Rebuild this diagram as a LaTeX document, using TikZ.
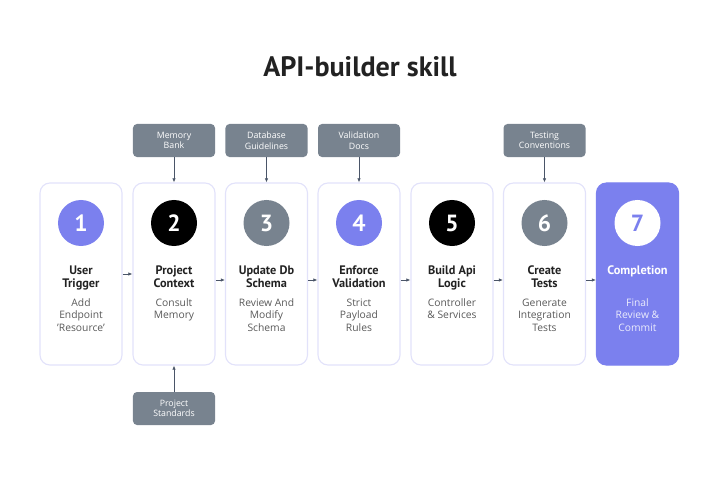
\documentclass[tikz,border=0pt]{standalone}
\usepackage{fontspec}
\setmainfont{Open Sans}
\newfontfamily\headfont{PT Sans}
\usetikzlibrary{arrows.meta}
\definecolor{stepviolet}{HTML}{7B80EE}
\definecolor{slate}{HTML}{78838F}
\definecolor{cardedge}{HTML}{E2E2FA}
\definecolor{ink}{HTML}{222222}
\definecolor{arrowgrey}{HTML}{4A5568}
\tikzset{
 card/.style={draw=cardedge,line width=1pt,rounded corners=0.3cm,minimum width=2.46cm,minimum height=5.46cm},
 badge/.style={circle,minimum size=1.38cm,text=white,font=\headfont\bfseries\fontsize{20}{22}\selectfont},
 steptitle/.style={anchor=north,inner sep=0pt,align=center,text=ink,font=\headfont\bfseries\fontsize{10.5}{11.4}\selectfont},
 stepdesc/.style={anchor=north,inner sep=0pt,align=center,text=ink!75,font=\fontsize{8.8}{10.6}\selectfont},
 source/.style={fill=slate,rounded corners=0.12cm,minimum width=2.46cm,minimum height=0.99cm,text=white,align=center,font=\fontsize{7.5}{9}\selectfont},
 flow/.style={-{Latex[length=3.5pt,width=3pt]},arrowgrey,line width=0.6pt}
}

\begin{document}
\begin{tikzpicture}[x=0.03cm,y=-0.03cm]
\useasboundingbox (0,0) rectangle (719,479);
\node[text=ink,font=\headfont\bfseries\fontsize{24}{30}\selectfont] (title) at (360,67) {API-builder skill};

\node[card] (c1) at (81,274) {};
\node[card] (c2) at (174,274) {};
\node[card] (c3) at (266.5,274) {};
\node[card] (c4) at (359,274) {};
\node[card] (c5) at (452,274) {};
\node[card] (c6) at (544.5,274) {};
\node[card,fill=stepviolet,draw=stepviolet] (c7) at (637.5,274) {};

\node[badge,fill=stepviolet] (b1) at (81,223) {1};
\node[badge,fill=black] (b2) at (174,223) {2};
\node[badge,fill=slate] (b3) at (266.5,223) {3};
\node[badge,fill=stepviolet] (b4) at (359,223) {4};
\node[badge,fill=black] (b5) at (452,223) {5};
\node[badge,fill=slate] (b6) at (544.5,223) {6};
\node[badge,fill=white,text=stepviolet] (b7) at (637.5,223) {7};

\node[steptitle] (t1) at (81,265.5) {User\\Trigger};
\node[steptitle] (t2) at (174,265.5) {Project\\Context};
\node[steptitle] (t3) at (266.5,265.5) {Update Db\\Schema};
\node[steptitle] (t4) at (359,265.5) {Enforce\\Validation};
\node[steptitle] (t5) at (452,265.5) {Build Api\\Logic};
\node[steptitle] (t6) at (544.5,265.5) {Create\\Tests};
\node[steptitle,text=white] (t7) at (637.5,265.5) {Completion};

\node[stepdesc] (d1) at (81,298.5) {Add\\Endpoint\\'Resource'};
\node[stepdesc] (d2) at (174,298.5) {Consult\\Memory};
\node[stepdesc] (d3) at (266.5,298.5) {Review And\\Modify\\Schema};
\node[stepdesc] (d4) at (359,298.5) {Strict\\Payload\\Rules};
\node[stepdesc] (d5) at (452,298.5) {Controller\\\& Services};
\node[stepdesc] (d6) at (544.5,298.5) {Generate\\Integration\\Tests};
\node[stepdesc,text=white!85!stepviolet] (d7) at (637.5,298.5) {Final\\Review \&\\Commit};

\node[source] (memory) at (174,140.5) {Memory\\Bank};
\node[source] (dbguide) at (266.5,140.5) {Database\\Guidelines};
\node[source] (valdocs) at (359,140.5) {Validation\\Docs};
\node[source] (testconv) at (544.5,140.5) {Testing\\Conventions};
\node[source] (standards) at (174,408.5) {Project\\Standards};

\draw[flow] (memory) -- (c2);
\draw[flow] (dbguide) -- (c3);
\draw[flow] (valdocs) -- (c4);
\draw[flow] (testconv) -- (c6);
\draw[flow] (standards) -- (c2);

\draw[flow] (c1) -- (c2);
\draw[flow] ([yshift=-0.18cm]c2.east) -- ([yshift=-0.18cm]c3.west);
\draw[flow] ([yshift=-0.18cm]c3.east) -- ([yshift=-0.18cm]c4.west);
\draw[flow] ([yshift=-0.18cm]c4.east) -- ([yshift=-0.18cm]c5.west);
\draw[flow] ([yshift=-0.18cm]c5.east) -- ([yshift=-0.18cm]c6.west);
\draw[flow] ([yshift=-0.18cm]c6.east) -- ([yshift=-0.18cm]c7.west);
\end{tikzpicture}
\end{document}
